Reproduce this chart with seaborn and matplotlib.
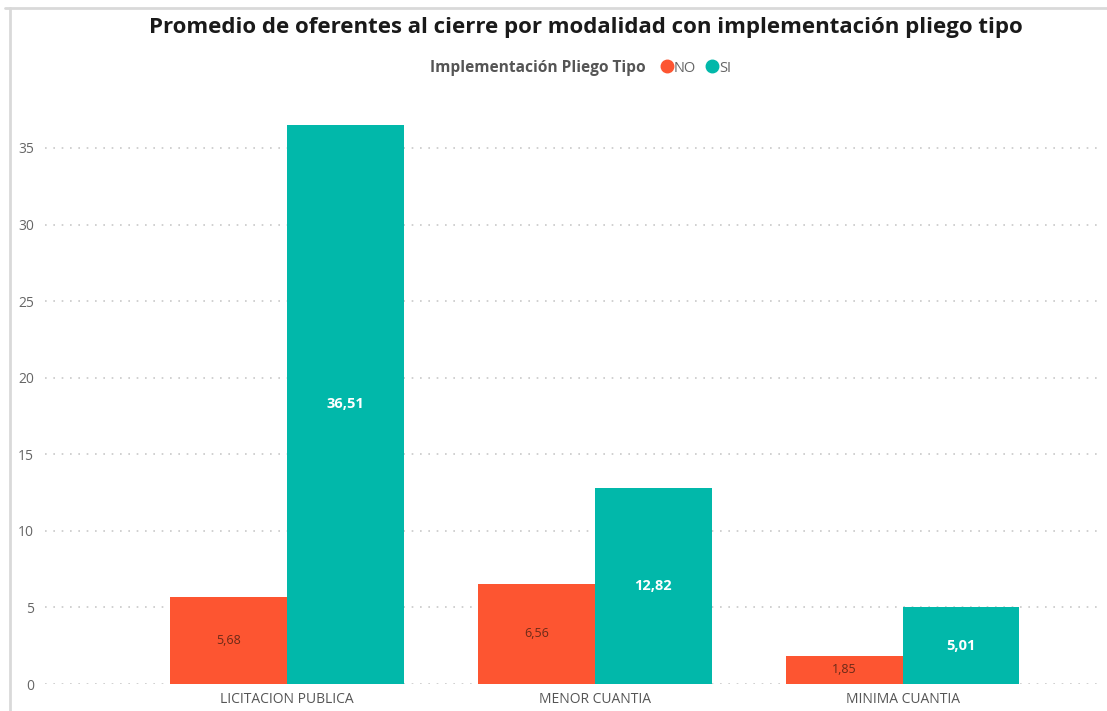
import matplotlib
matplotlib.use("Agg")
import matplotlib.pyplot as plt
from matplotlib.lines import Line2D
import seaborn as sns
import pandas as pd

# Average number of bidders at closing, by procurement modality
modalidades = ["LICITACION PUBLICA", "MENOR CUANTIA", "MINIMA CUANTIA"]
grupos = ["NO", "SI"]
promedio_no = [5.68, 6.56, 1.85]
promedio_si = [36.51, 12.82, 5.01]
y_ticks = [0, 5, 10, 15, 20, 25, 30, 35]

colores = {"NO": "#FD5531", "SI": "#01B8AA"}

df = pd.DataFrame({
    "modalidad": modalidades * 2,
    "pliego": ["NO"] * 3 + ["SI"] * 3,
    "promedio": promedio_no + promedio_si,
})

sns.set_theme(style="white")
plt.rcParams["font.family"] = ["Open Sans", "DejaVu Sans"]

W, H = 1107, 711
fig = plt.figure(figsize=(W / 100, H / 100), dpi=100)
fig.patch.set_facecolor("white")

ax_left, ax_right = 45, 1100
y0_px, ytop_val = 684, 38.5
px_per_unit = (684 - 148) / 35.0
ax_top = y0_px - ytop_val * px_per_unit
ax = fig.add_axes([ax_left / W, (H - y0_px) / H,
                   (ax_right - ax_left) / W, (y0_px - ax_top) / H])

sns.barplot(data=df, x="modalidad", y="promedio", hue="pliego",
            hue_order=grupos, order=modalidades, palette=colores,
            width=0.757, dodge=True, saturation=1, errorbar=None,
            edgecolor="none", linewidth=0, legend=False, ax=ax, zorder=3)

ax.set_xlim(-0.786, 2.64)
ax.set_ylim(0, ytop_val)
ax.set_yticks(y_ticks)
ax.set_yticklabels([str(t) for t in y_ticks], color="#666666", fontsize=10)
ax.tick_params(axis="x", length=0, pad=6, labelsize=10, labelcolor="#555555")
ax.tick_params(axis="y", length=0, pad=8)
ax.set_xlabel("")
ax.set_ylabel("")
for s in ax.spines.values():
    s.set_visible(False)
ax.grid(axis="y", color="#c8c8c8", linestyle=(0, (1, 4)), linewidth=1.2, zorder=0)
ax.set_axisbelow(True)

# Value labels inside the bars
for cont, grupo in zip(ax.containers, grupos):
    if grupo == "NO":
        labels = [f"{v:.2f}".replace(".", ",") for v in promedio_no]
        ax.bar_label(cont, labels=labels, label_type="center",
                     color="#6b2a18", fontsize=9)
    else:
        labels = [f"{v:.2f}".replace(".", ",") for v in promedio_si]
        ax.bar_label(cont, labels=labels, label_type="center",
                     color="white", fontsize=10.5, fontweight="bold")

# Title and legend header
fig.text(586 / W, 1 - 28 / H,
         "Promedio de oferentes al cierre por modalidad con implementación pliego tipo",
         ha="center", va="center", fontsize=16, fontweight="bold",
         color="#1a1a1a")
fig.text(430 / W, 1 - 68 / H, "Implementación Pliego Tipo", ha="left",
         va="center", fontsize=11.2, fontweight="bold", color="#555555")
handles = [Line2D([], [], marker="o", linestyle="none", markersize=9,
                  markerfacecolor=colores[g], markeredgecolor=colores[g])
           for g in grupos]
fig.legend(handles, grupos, loc="center left",
           bbox_to_anchor=(652 / W, 1 - 68 / H), ncol=2, frameon=False,
           handletextpad=0.0, columnspacing=0.6, fontsize=10.5,
           labelcolor="#666666", borderpad=0, handlelength=1.0)

# Thin frame along the top and left edges of the card
fig.add_artist(Line2D([5 / W, 1], [1 - 8 / H, 1 - 8 / H], color="#d9d9d9",
                      linewidth=2, transform=fig.transFigure))
fig.add_artist(Line2D([10 / W, 10 / W], [0, 1 - 8 / H], color="#d9d9d9",
                      linewidth=2, transform=fig.transFigure))

fig.savefig("out.png", dpi=100, facecolor="white")
